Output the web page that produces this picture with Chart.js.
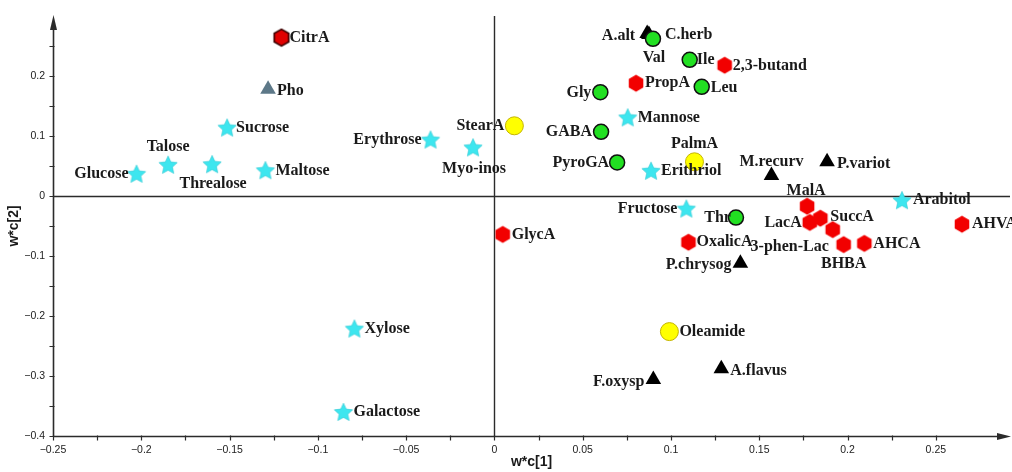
<!DOCTYPE html>
<html>
<head>
<meta charset="utf-8">
<script src="https://cdn.jsdelivr.net/npm/chart.js@4.4.1/dist/chart.umd.min.js"></script>
<style>
  html, body { margin: 0; padding: 0; background: #ffffff; }
  #wrap { width: 1012px; height: 472px; }
</style>
</head>
<body>
<div id="wrap"><canvas id="plot" width="1012" height="472"></canvas></div>
<script>
// ---- Loadings w*c[1] / w*c[2] ----
const sugarNames = ['Glucose', 'Talose', 'Threalose', 'Sucrose', 'Maltose', 'Erythrose', 'Myo-inos',
  'Mannose', 'Erithriol', 'Fructose', 'Arabitol', 'Xylose', 'Galactose'];
const sugarX = [-0.2027, -0.1848, -0.1599, -0.1514, -0.1297, -0.0362, -0.0121,
  0.0755, 0.0887, 0.1087, 0.2308, -0.0793, -0.0855];
const sugarY = [0.037, 0.052, 0.053, 0.114, 0.043, 0.094, 0.081,
  0.131, 0.042, -0.021, -0.007, -0.221, -0.360];

const acidNames = ['CitrA', 'PropA', '2,3-butand', 'MalA', 'LacA', 'SuccA', '3-phen-Lac',
  'BHBA', 'AHCA', 'AHVA', 'OxalicA', 'GlycA'];
const acidX = [-0.1206, 0.0802, 0.1304, 0.1771, 0.1786, 0.1846, 0.1916,
  0.1978, 0.2095, 0.2648, 0.1099, 0.0047];
const acidY = [0.264, 0.188, 0.218, -0.017, -0.044, -0.037, -0.056,
  -0.081, -0.079, -0.047, -0.077, -0.064];

const aminoNames = ['Val', 'Ile', 'Leu', 'Gly', 'GABA', 'PyroGA', 'Thr'];
const aminoX = [0.0898, 0.1106, 0.1174, 0.0600, 0.0604, 0.0695, 0.1368];
const aminoY = [0.262, 0.227, 0.182, 0.173, 0.107, 0.056, -0.036];

const lipidNames = ['StearA', 'PalmA', 'Oleamide'];
const lipidX = [0.0113, 0.1133, 0.0991];
const lipidY = [0.117, 0.057, -0.226];

const fungusNames = ['A.alt', 'C.herb', 'M.recurv', 'P.variot', 'P.chrysog', 'F.oxysp', 'A.flavus'];
const fungusX = [0.0865, 0.0875, 0.1569, 0.1884, 0.1393, 0.0900, 0.1285];
const fungusY = [0.271, 0.269, 0.034, 0.057, -0.112, -0.306, -0.288];

const phoNames = ['Pho'];
const phoX = [-0.1282];
const phoY = [0.178];

// ---- Axis ticks ----
const xTicks = [-0.25, -0.2, -0.15, -0.1, -0.05, 0, 0.05, 0.1, 0.15, 0.2, 0.25];
const xTickLabels = ['\u22120.25', '\u22120.2', '\u22120.15', '\u22120.1', '\u22120.05', '0', '0.05', '0.1', '0.15', '0.2', '0.25'];
const yTicks = [-0.4, -0.3, -0.2, -0.1, 0, 0.1, 0.2];
const yTickLabels = ['\u22120.4', '\u22120.3', '\u22120.2', '\u22120.1', '0', '0.1', '0.2'];

const toPoints = (xs, ys) => xs.map((x, i) => ({ x: x, y: ys[i] }));

// ---- Marker sprites ----
function sprite(size, paint) {
  const c = document.createElement('canvas');
  c.width = size; c.height = size;
  const g = c.getContext('2d');
  paint(g, size / 2);
  return c;
}
function hexagon(fill, stroke, lw) {
  return sprite(20, (g, m) => {
    const r = 8.4;
    g.beginPath();
    for (let k = 0; k < 6; k++) {
      const a = -Math.PI / 2 + k * Math.PI / 3;
      const px = m + r * Math.cos(a), py = m + r * Math.sin(a);
      k ? g.lineTo(px, py) : g.moveTo(px, py);
    }
    g.closePath();
    g.fillStyle = fill; g.fill();
    if (stroke) { g.lineWidth = lw; g.strokeStyle = stroke; g.stroke(); }
  });
}
function star(fill) {
  return sprite(22, (g, m) => {
    const R = 9.6, r = 4.6;
    g.beginPath();
    for (let k = 0; k < 10; k++) {
      const a = -Math.PI / 2 + k * Math.PI / 5;
      const rr = k % 2 ? r : R;
      const px = m + rr * Math.cos(a), py = m + 0.8 + rr * Math.sin(a);
      k ? g.lineTo(px, py) : g.moveTo(px, py);
    }
    g.closePath();
    g.fillStyle = fill; g.fill();
    g.lineWidth = 0.6; g.strokeStyle = '#2cc7d2'; g.stroke();
  });
}
const starImg = star('#3de6ef');
const hexImg = hexagon('#f20000', null, 0);
const citrImg = hexagon('#e10000', '#3a0000', 1.6);

const labelsFor = { sugars: sugarNames, acids: acidNames, amino: aminoNames, lipids: lipidNames, fungi: fungusNames, pho: phoNames };

// label placement: [mode, dx, dy]; mode r = text to the right, l = to the left, c = centred
const place = {
  'Glucose': ['l', 8, 0], 'Talose': ['c', 0, -18], 'Threalose': ['c', 1, 20], 'Sucrose': ['r', 9, 0],
  'Maltose': ['r', 10, 1], 'Erythrose': ['l', 9, 0], 'Myo-inos': ['c', 1, 21], 'Mannose': ['r', 10, 0],
  'Erithriol': ['r', 10, 0], 'Fructose': ['l', 9, 0], 'Arabitol': ['r', 11, 0], 'Xylose': ['r', 10, 0],
  'Galactose': ['r', 10, 0],
  'CitrA': ['r', 8, 0], 'PropA': ['r', 9, 0], '2,3-butand': ['r', 8, 1], 'MalA': ['c', -1, -15],
  'LacA': ['l', 8, 0], 'SuccA': ['r', 10, -1], '3-phen-Lac': ['c', -43, 17], 'BHBA': ['c', 0, 19],
  'AHCA': ['r', 9, 0], 'AHVA': ['r', 10, 0], 'OxalicA': ['r', 8, 0], 'GlycA': ['r', 9, 0],
  'Val': ['c', 1, 19], 'Ile': ['r', 7, 0], 'Leu': ['r', 9, 1], 'Gly': ['l', 9, 1], 'GABA': ['l', 9, 0],
  'PyroGA': ['l', 8, 0], 'Thr': ['l', 5, 0],
  'StearA': ['l', 10, 0], 'PalmA': ['c', 0, -18], 'Oleamide': ['r', 10, 0],
  'A.alt': ['l', 12, 2], 'C.herb': ['r', 16, 0], 'M.recurv': ['c', 0, -14], 'P.variot': ['r', 10, 2],
  'P.chrysog': ['l', 9, 2], 'F.oxysp': ['l', 9, 2], 'A.flavus': ['r', 9, 2],
  'Pho': ['r', 9, 2]
};

// point labels drawn beside each marker
const pointLabels = {
  id: 'pointLabels',
  afterDatasetsDraw(chart) {
    const ctx = chart.ctx;
    ctx.save();
    ctx.font = 'bold 16px "Liberation Serif", "Times New Roman", serif';
    ctx.fillStyle = '#1a1a1a';
    ctx.textBaseline = 'middle';
    chart.data.datasets.forEach((ds, di) => {
      const meta = chart.getDatasetMeta(di);
      const names = labelsFor[ds.key];
      meta.data.forEach((pt, i) => {
        const name = names[i];
        const p = place[name] || ['r', 10, 0];
        let x = pt.x, y = pt.y + p[2];
        if (p[0] === 'r') { ctx.textAlign = 'left'; x += p[1]; }
        else if (p[0] === 'l') { ctx.textAlign = 'right'; x -= p[1]; }
        else { ctx.textAlign = 'center'; x += p[1]; }
        ctx.fillText(name, x, y);
      });
    });
    ctx.restore();
  }
};

// frame axes with arrows, origin cross lines and tick marks
const axesFrame = {
  id: 'axesFrame',
  beforeDatasetsDraw(chart) {
    const { ctx, chartArea: a, scales: { x, y } } = chart;
    ctx.save();
    ctx.strokeStyle = '#2b2b2b';
    ctx.fillStyle = '#2b2b2b';
    // origin cross
    ctx.lineWidth = 1.4;
    const x0 = Math.round(x.getPixelForValue(0)) + 0.5;
    const y0 = Math.round(y.getPixelForValue(0)) + 0.5;
    ctx.beginPath();
    ctx.moveTo(x0, a.top); ctx.lineTo(x0, a.bottom);
    ctx.moveTo(a.left, y0); ctx.lineTo(a.right, y0);
    ctx.stroke();
    // left and bottom axes
    ctx.lineWidth = 1.6;
    const L = Math.round(a.left) + 0.5, B = Math.round(a.bottom) + 0.5;
    ctx.beginPath();
    ctx.moveTo(L, B); ctx.lineTo(L, a.top + 8);
    ctx.moveTo(L, B); ctx.lineTo(a.right - 6, B);
    ctx.stroke();
    // arrow heads
    ctx.beginPath();
    ctx.moveTo(L, a.top - 1); ctx.lineTo(L - 3.5, a.top + 14); ctx.lineTo(L + 3.5, a.top + 14); ctx.closePath();
    ctx.fill();
    ctx.beginPath();
    ctx.moveTo(a.right + 1, B); ctx.lineTo(a.right - 13, B - 3.5); ctx.lineTo(a.right - 13, B + 3.5); ctx.closePath();
    ctx.fill();
    // tick marks, major and minor
    ctx.lineWidth = 1.2;
    ctx.beginPath();
    for (let v = -0.25; v <= 0.2501; v += 0.025) {
      const px = Math.round(x.getPixelForValue(v)) + 0.5;
      ctx.moveTo(px, B - 1); ctx.lineTo(px, B + 4);
    }
    for (let v = -0.4; v <= 0.2501; v += 0.05) {
      const py = Math.round(y.getPixelForValue(v)) + 0.5;
      ctx.moveTo(L - 4, py); ctx.lineTo(L + 1, py);
    }
    ctx.stroke();
    ctx.restore();
  }
};

const tickFont = { family: '"Liberation Sans", Arial, sans-serif', size: 10.5 };
const titleFont = { family: '"Liberation Sans", Arial, sans-serif', size: 14, weight: 'bold' };

new Chart(document.getElementById('plot'), {
  type: 'scatter',
  data: {
    datasets: [
      { key: 'amino', data: toPoints(aminoX, aminoY), pointStyle: 'circle', pointRadius: 7.5,
        backgroundColor: '#22e022', borderColor: '#111111', borderWidth: 1.5 },
      { key: 'lipids', data: toPoints(lipidX, lipidY), pointStyle: 'circle', pointRadius: 9,
        backgroundColor: '#ffff00', borderColor: '#c4b400', borderWidth: 1 },
      { key: 'acids', data: toPoints(acidX, acidY),
        pointStyle: (c) => (c.dataIndex === 0 ? citrImg : hexImg), pointRadius: 9 },
      { key: 'sugars', data: toPoints(sugarX, sugarY), pointStyle: starImg, pointRadius: 10 },
      { key: 'pho', data: toPoints(phoX, phoY), pointStyle: 'triangle', pointRadius: 9,
        backgroundColor: '#5d7888', borderColor: '#5d7888', borderWidth: 0 },
      { key: 'fungi', data: toPoints(fungusX, fungusY), pointStyle: 'triangle', pointRadius: 9,
        backgroundColor: '#000000', borderColor: '#000000', borderWidth: 0 }
    ]
  },
  options: {
    responsive: false,
    animation: false,
    devicePixelRatio: 1,
    layout: { autoPadding: false, padding: { top: 16, right: 2, left: 0, bottom: 0 } },
    plugins: { legend: { display: false }, tooltip: { enabled: false } },
    scales: {
      x: {
        type: 'linear', min: -0.25, max: 0.292,
        afterBuildTicks: (s) => { s.ticks = xTicks.map(v => ({ value: v })); },
        afterFit: (s) => { s.height = 36; s.paddingLeft = 0; s.paddingRight = 0; },
        grid: { display: false, drawTicks: false },
        border: { display: false },
        ticks: { padding: 8, color: '#222222', font: tickFont, maxRotation: 0, autoSkip: false,
          callback: (v, i) => xTickLabels[i] },
        title: { display: true, text: 'w*c[1]', color: '#1a1a1a', font: titleFont, padding: { top: 0, bottom: 1 } }
      },
      y: {
        type: 'linear', min: -0.4, max: 0.3,
        afterBuildTicks: (s) => { s.ticks = yTicks.map(v => ({ value: v })); },
        afterFit: (s) => { s.width = 53; s.paddingTop = 0; s.paddingBottom = 0; },
        grid: { display: false, drawTicks: false },
        border: { display: false },
        ticks: { padding: 8, color: '#222222', font: tickFont, autoSkip: false,
          callback: (v, i) => yTickLabels[i] },
        title: { display: true, text: 'w*c[2]', color: '#1a1a1a', font: titleFont, padding: { top: 6, bottom: 0 } }
      }
    }
  },
  plugins: [axesFrame, pointLabels]
});
</script>
</body>
</html>
